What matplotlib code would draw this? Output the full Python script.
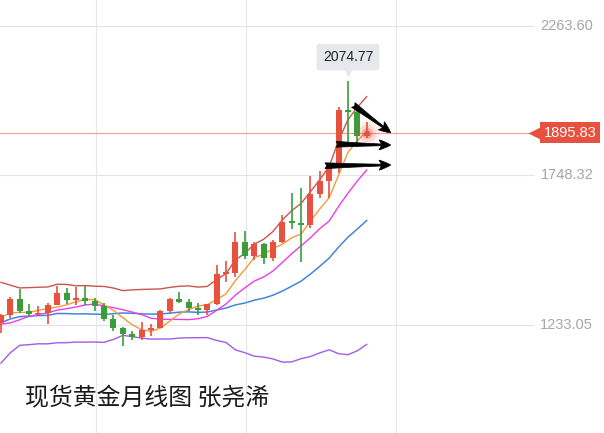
import numpy as np
import pandas as pd
import matplotlib
matplotlib.use('Agg')
import matplotlib.pyplot as plt
import matplotlib.transforms as mtransforms

# Spot gold, monthly candles (Jul 2017 .. Oct 2020)
open_ = [1241, 1269, 1322, 1280, 1271, 1275, 1303, 1345, 1318, 1325,
         1315, 1299, 1253, 1224, 1201, 1192, 1215, 1222, 1282, 1321,
         1313, 1292, 1284, 1305, 1409, 1413, 1520, 1472, 1513, 1463,
         1518, 1589, 1585, 1577, 1686, 1730, 1781, 1975, 1968, 1886]
high = [1270, 1331, 1357, 1306, 1299, 1309, 1366, 1362, 1365, 1369,
        1326, 1309, 1266, 1227, 1214, 1243, 1237, 1284, 1326, 1347,
        1324, 1310, 1306, 1439, 1453, 1555, 1557, 1518, 1516, 1525,
        1611, 1689, 1704, 1748, 1765, 1789, 1984, 2074.77, 1992, 1933]
low = [1204, 1258, 1274, 1261, 1264, 1236, 1302, 1307, 1303, 1302,
       1282, 1246, 1211, 1160, 1180, 1182, 1196, 1221, 1276, 1310,
       1281, 1266, 1266, 1301, 1381, 1400, 1459, 1458, 1445, 1454,
       1517, 1563, 1451, 1567, 1670, 1671, 1757, 1863, 1848, 1878]
close = [1269, 1322, 1280, 1271, 1275, 1303, 1345, 1318, 1325, 1315,
         1299, 1253, 1224, 1201, 1192, 1215, 1222, 1282, 1321, 1313,
         1292, 1284, 1305, 1409, 1413, 1520, 1472, 1513, 1463, 1518,
         1589, 1585, 1577, 1686, 1730, 1781, 1975, 1968, 1886, 1895.83]
# closes scrolled off the left edge (Dec 2015 .. Jun 2017), needed for MA/BOLL
earlier_close = [1061, 1118, 1238, 1233, 1293, 1215, 1322, 1351, 1309, 1316,
                 1277, 1173, 1152, 1211, 1249, 1249, 1268, 1269, 1242]

axis_levels = [2263.60, 1748.32, 1233.05]
last_price = 1895.83
title = '现货黄金月线图 张尧浠'

# indicators: MA5, MA10, BOLL(20, 2)
n = len(close)
s = pd.Series(earlier_close + close)
ma5 = s.rolling(5).mean().values[-n:]
ma10 = s.rolling(10).mean().values[-n:]
mid = s.rolling(20).mean()
sd = s.rolling(20).std(ddof=0)
boll_up = (mid + 2 * sd).values[-n:]
boll_dn = (mid - 2 * sd).values[-n:]
boll_mid = mid.values[-n:]

x = np.arange(n)
up_c, dn_c = '#e8503f', '#3a9d3a'

fig = plt.figure(figsize=(6.04, 4.33), dpi=100)
ax = fig.add_axes([0, 0, 1, 1])
ax.set_axis_off()
ax.set_xlim(-0.1, 64.3)
ax.set_ylim(860.8, 2353.2)

# grid
blend = mtransforms.blended_transform_factory(ax.transAxes, ax.transData)
for v in [10.14, 26.13, 42.12]:
    ax.axvline(v, color='#e6e6e6', lw=0.8, zorder=0)
for lv in axis_levels:
    ax.axhline(lv, xmax=0.883, color='#e4e4e4', lw=0.8, zorder=0)
    ax.text(0.982, lv, '%.2f' % lv, transform=blend, ha='right', va='center',
            color='#a3a6ab', fontsize=10.5, family='Liberation Sans')

# indicator lines
ax.plot(x, boll_up, color='#c9564c', lw=1.0, zorder=2)
ax.plot(x, boll_dn, color='#a05ce6', lw=1.0, zorder=2)
ax.plot(x, boll_mid, color='#3f86e0', lw=1.1, zorder=2)
ax.plot(x, ma10, color='#e83ee8', lw=1.0, zorder=2)
ax.plot(x, ma5, color='#f39a3c', lw=1.0, zorder=2)

# candles
for i in range(n):
    c = up_c if close[i] >= open_[i] else dn_c
    ax.vlines(i, low[i], high[i], color=c, lw=1.2, zorder=3)
    h = max(abs(close[i] - open_[i]), 5)
    ax.bar(i, h, bottom=min(open_[i], close[i]), width=0.64, color=c,
           zorder=4)

# current price line + label
ax.axhline(last_price, xmax=0.878, color='#f2a29a', lw=0.9, zorder=1)
ax.plot([0.885], [last_price], transform=blend, marker='<', ms=10,
        color=up_c, mec='none', clip_on=False)
ax.text(0.988, last_price, '%.2f' % last_price, transform=blend, ha='right',
        va='center', color='white', fontsize=10.5, family='Liberation Sans',
        bbox=dict(boxstyle='square,pad=0.25', fc=up_c, ec='none'))

# glow at last close
for sz, a in [(320, 0.08), (160, 0.15), (60, 0.35), (14, 1.0)]:
    ax.scatter(n - 1, last_price, s=sz, color=up_c, alpha=a, lw=0, zorder=5)

# high tooltip
hi = int(np.argmax(high))
tip_off = mtransforms.offset_copy(ax.transData, fig=fig, x=0, y=10,
                                  units='dots')
ax.plot([hi], [high[hi]], transform=tip_off, marker='v', ms=9,
        color='#e6e8eb', mec='none')
ax.annotate('%.2f' % high[hi], (hi, high[hi]), xytext=(0, 17),
            textcoords='offset points', ha='center', va='center',
            fontsize=10, color='#222222', family='Liberation Sans',
            bbox=dict(boxstyle='round,pad=0.45,rounding_size=0.2',
                      fc='#e6e8eb', ec='none'))

# hand drawn arrows
arrows = [((37.57, 1991.3), (41.56, 1895.8)),
          ((35.72, 1855.9), (41.56, 1853.4)),
          ((34.55, 1782.0), (41.56, 1784.5))]
for start, end in arrows:
    ax.annotate('', xy=end, xytext=start,
                arrowprops=dict(arrowstyle='fancy,head_length=0.7,'
                                'head_width=0.6,tail_width=0.35',
                                color='black', lw=0.5, shrinkA=0, shrinkB=0,
                                mutation_scale=12), zorder=6)

ax.text(0.041, 0.079, title, transform=ax.transAxes, ha='left', va='center',
        fontsize=17.2, color='#1a1a1a',
        family=['Noto Sans CJK SC', 'DejaVu Sans'])

fig.savefig('out.png', dpi=100)
